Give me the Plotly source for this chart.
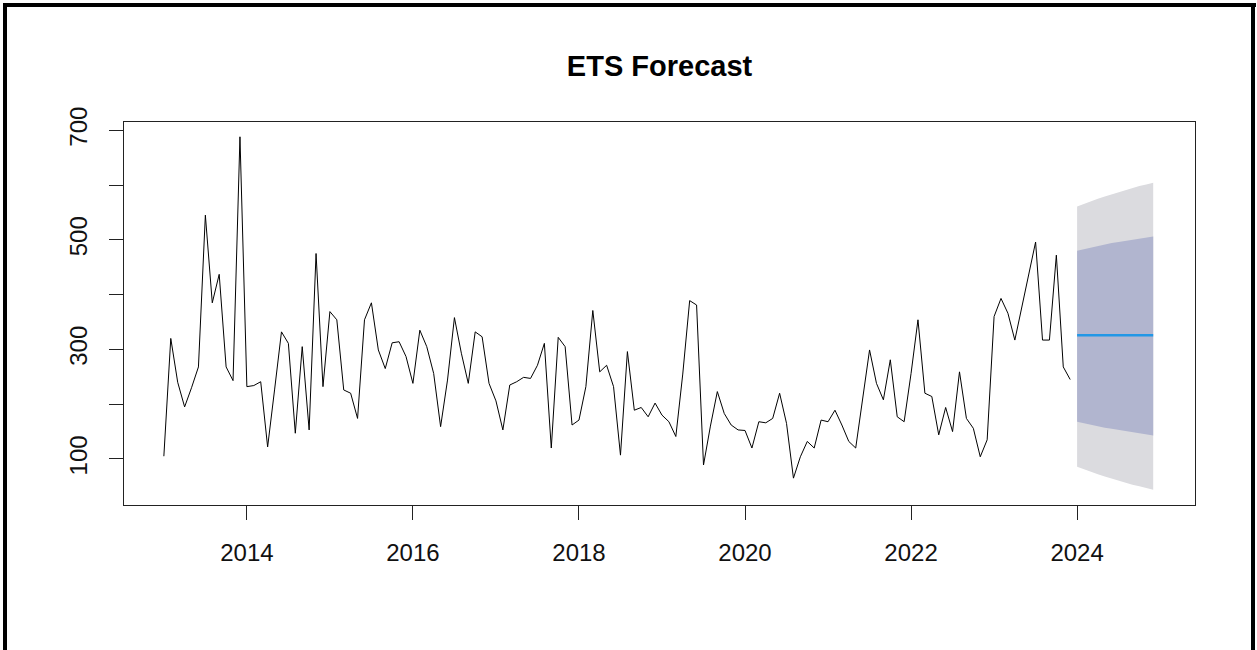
import plotly.graph_objects as go

# Monthly observations, Jan 2013 .. Dec 2023
start_year = 2013
observed = [
    105, 320, 240, 195, 230, 268, 545, 385, 437, 268, 243, 688,   # 2013
    232, 234, 241, 122, 226, 332, 311, 147, 305, 153, 475, 232,   # 2014
    369, 354, 226, 220, 174, 354, 385, 299, 265, 312, 314, 287,   # 2015
    238, 335, 305, 256, 159, 244, 358, 293, 238, 332, 323, 238,   # 2016
    206, 153, 235, 241, 249, 247, 271, 311, 120, 322, 305, 162,   # 2017
    171, 232, 371, 259, 271, 232, 107, 296, 189, 194, 177, 202,   # 2018
    180, 168, 141, 255, 389, 381, 89, 160, 223, 183, 162, 153,    # 2019
    152, 120, 168, 166, 174, 220, 165, 65, 104, 132, 120, 171,    # 2020
    168, 189, 162, 132, 120, 205, 299, 238, 208, 281, 177, 168,   # 2021
    256, 354, 220, 214, 144, 194, 150, 259, 174, 156, 104, 135,   # 2022
    360, 393, 366, 317, 378, 439, 496, 317, 317, 472, 268, 245,   # 2023
]

# 12-month ETS forecast for 2024 with 80% / 95% intervals
forecast_year = 2024
fc_mean = [326] * 12
fc_lo80 = [168, 165, 162, 160, 157, 155, 153, 151, 149, 147, 145, 143]
fc_hi80 = [480, 483, 486, 489, 491, 494, 496, 498, 500, 502, 504, 506]
fc_lo95 = [86, 81, 76, 72, 68, 64, 60, 57, 53, 50, 47, 44]
fc_hi95 = [561, 566, 571, 575, 579, 583, 587, 591, 594, 598, 601, 604]

y_ticks = [100, 200, 300, 400, 500, 600, 700]
y_tick_text = ["100", "", "300", "", "500", "", "700"]
x_ticks = [2014, 2016, 2018, 2020, 2022, 2024]

t_obs = [start_year + i / 12 for i in range(len(observed))]
t_fc = [forecast_year + i / 12 for i in range(len(fc_mean))]

FONT = "Liberation Sans, Arial, sans-serif"

fig = go.Figure()

# 95% band
fig.add_trace(go.Scatter(x=t_fc, y=fc_lo95, mode="lines", line=dict(width=0),
                         hoverinfo="skip", showlegend=False))
fig.add_trace(go.Scatter(x=t_fc, y=fc_hi95, mode="lines", line=dict(width=0),
                         fill="tonexty", fillcolor="#DBDBDF",
                         hoverinfo="skip", showlegend=False))
# 80% band
fig.add_trace(go.Scatter(x=t_fc, y=fc_lo80, mode="lines", line=dict(width=0),
                         hoverinfo="skip", showlegend=False))
fig.add_trace(go.Scatter(x=t_fc, y=fc_hi80, mode="lines", line=dict(width=0),
                         fill="tonexty", fillcolor="#B1B5CF",
                         hoverinfo="skip", showlegend=False))
# point forecast
fig.add_trace(go.Scatter(x=t_fc, y=fc_mean, mode="lines",
                         line=dict(color="#2297E6", width=2.5), showlegend=False))
# history
fig.add_trace(go.Scatter(x=t_obs, y=observed, mode="lines",
                         line=dict(color="black", width=1), showlegend=False))

W, H = 1257, 650
L, R, T, B = 124, 62, 122, 145
pw, ph = W - L - R, H - T - B


def px_x(p):
    return (p - L) / pw


def px_y(p):
    return (H - B - p) / ph


frame = dict(color="black", width=4)
fig.add_shape(type="line", xref="paper", yref="paper",
              x0=px_x(5), x1=px_x(5), y0=px_y(5), y1=px_y(700), line=frame)
fig.add_shape(type="line", xref="paper", yref="paper",
              x0=px_x(3), x1=px_x(1256), y0=px_y(5), y1=px_y(5), line=frame)
fig.add_shape(type="line", xref="paper", yref="paper",
              x0=px_x(1253), x1=px_x(1253), y0=px_y(5), y1=px_y(700), line=frame)

axis_common = dict(
    showgrid=False, zeroline=False, showline=True, linecolor="#222222",
    linewidth=1, mirror=True, ticks="outside", ticklen=14, tickwidth=1,
    tickcolor="#222222", tickfont=dict(family=FONT, size=24, color="#111111"),
)

fig.update_xaxes(range=[2012.52, 2025.42], tickvals=x_ticks,
                 ticktext=[str(v) for v in x_ticks], ticklabelstandoff=12,
                 **axis_common)
fig.update_yaxes(range=[16, 715], tickvals=y_ticks, ticktext=y_tick_text,
                 tickangle=-90, ticklabelstandoff=12, **axis_common)

fig.update_layout(
    width=W, height=H, autosize=False,
    margin=dict(l=L, r=R, t=T, b=B, pad=0),
    paper_bgcolor="white", plot_bgcolor="white",
    title=dict(text="<b>ETS Forecast</b>", x=px_x(659.5) * pw / W + L / W,
               xanchor="center", y=1 - 66 / H, yanchor="middle",
               font=dict(family=FONT, size=29, color="black")),
    showlegend=False,
)

fig.write_html("out.html")
